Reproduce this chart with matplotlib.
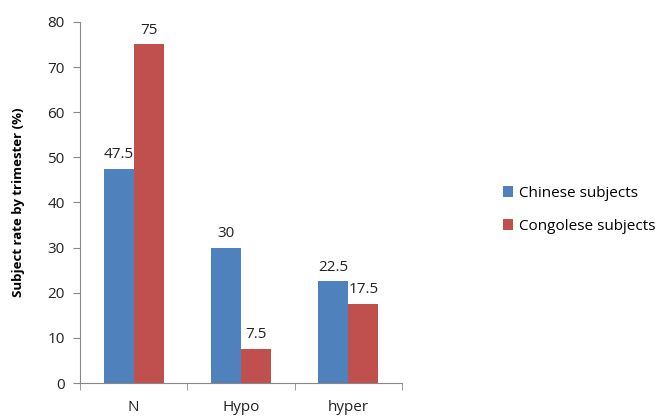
import numpy as np
import matplotlib.pyplot as plt

categories = ["N", "Hypo", "hyper"]
chinese = [47.5, 30, 22.5]
congolese = [75, 7.5, 17.5]
series_names = ["Chinese subjects", "Congolese subjects"]
y_ticks = [0, 10, 20, 30, 40, 50, 60, 70, 80]


def main():
	plt.rcParams.update({'font.family': 'Open Sans', 'font.size': 11})

	fig = plt.figure(figsize=(6.61, 4.17), dpi=100)
	ax = fig.add_axes([0.121, 0.0815, 0.487, 0.866])

	x = np.arange(len(categories))
	width = 0.28
	blue = '#4F81BD'
	red = '#C0504D'

	b1 = ax.bar(x - width / 2, chinese, width, color=blue, label=series_names[0])
	b2 = ax.bar(x + width / 2, congolese, width, color=red, label=series_names[1])

	# Value labels above each bar
	for bars in (b1, b2):
		for rect in bars:
			h = rect.get_height()
			ax.annotate(f"{h:g}", (rect.get_x() + rect.get_width() / 2, h),
				xytext=(0, 5), textcoords='offset points',
				ha='center', va='bottom', fontsize=11, color='#222')

	# Axes format
	ax.set_xlim(-0.5, len(categories) - 0.5)
	ax.set_ylim(0, 80)
	ax.set_yticks(y_ticks)
	ax.set_xticks(x)
	ax.set_xticklabels(categories)
	ax.set_xticks(np.arange(len(categories) + 1) - 0.5, minor=True)
	ax.tick_params(axis='x', which='major', length=0, pad=12, colors='#222')
	ax.tick_params(axis='x', which='minor', length=5, color='#888')
	ax.tick_params(axis='y', length=5, pad=6, colors='#222')
	ax.tick_params(axis='y', color='#888')

	for side in ('top', 'right'):
		ax.spines[side].set_visible(False)
	for side in ('left', 'bottom'):
		ax.spines[side].set_color('#888')

	ax.set_ylabel("Subject rate by trimester (%)", fontweight='bold', fontsize=9.5, labelpad=16)

	ax.legend(loc='center left', bbox_to_anchor=(1.27, 0.48), frameon=False,
		handlelength=0.7, handleheight=0.7, handletextpad=0.4, labelspacing=1.2, fontsize=11)

	fig.savefig('out.png', dpi=100)


if __name__ == '__main__':
	main()
